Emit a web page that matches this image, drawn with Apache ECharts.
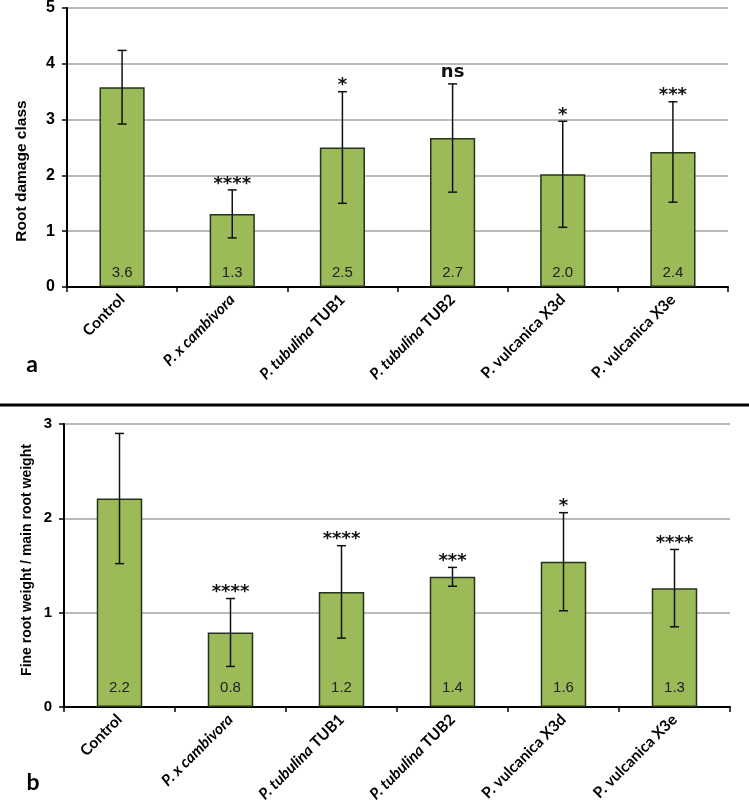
<!DOCTYPE html>
<html>
<head>
<meta charset="utf-8">
<script src="https://cdn.jsdelivr.net/npm/echarts@6/dist/echarts.min.js"></script>
<style>
html,body{margin:0;padding:0;background:#fff;}
#chart{width:749px;height:806px;}
</style>
</head>
<body>
<div id="chart"></div>
<script>
// ---- data ----
const categories = ['Control', 'P. x cambivora', 'P. tubulina TUB1', 'P. tubulina TUB2', 'P. vulcanica X3d', 'P. vulcanica X3e'];

const damageMean = [3.58, 1.31, 2.50, 2.67, 2.02, 2.42];
const damageErr = [0.66, 0.43, 1.00, 0.97, 0.95, 0.90];
const damageLabels = ['3.6', '1.3', '2.5', '2.7', '2.0', '2.4'];
const damageSig = ['', '****', '*', 'ns', '*', '***'];
const damageTicks = [0, 1, 2, 3, 4, 5];

const ratioMean = [2.21, 0.79, 1.22, 1.38, 1.54, 1.26];
const ratioErr = [0.69, 0.36, 0.49, 0.10, 0.52, 0.41];
const ratioLabels = ['2.2', '0.8', '1.2', '1.4', '1.6', '1.3'];
const ratioSig = ['', '****', '****', '***', '*', '****'];
const ratioTicks = [0, 1, 2, 3];

const damageTitle = 'Root damage class';
const ratioTitle = 'Fine root weight / main root weight';
const panelLetters = ['a', 'b'];

// ---- chart ----
const chart = echarts.init(document.getElementById('chart'));

function catFormatter(v) {
  const m = v.match(/^(P\. [a-z ]+?)( [A-Z0-9]+)?$/);
  if (v === 'Control' || !m) return '{n|' + v + '}';
  if (m[2]) return '{i|' + m[1] + '}{n|' + m[2] + '}';
  return '{i|' + m[1] + '}';
}

function xAxisDef(gridIndex) {
  return {
    type: 'category', gridIndex: gridIndex, data: categories,
    axisLine: {lineStyle: {color: '#000', width: 2}},
    axisTick: {show: true, length: 5, lineStyle: {color: '#000', width: 1.5}},
    axisLabel: {
      rotate: 45, margin: 10, interval: 0,
      formatter: catFormatter,
      rich: {
        n: {fontFamily: 'Lato', fontWeight: 'bold', fontSize: 15.5, color: '#000'},
        i: {fontFamily: 'Lato', fontWeight: 'bold', fontStyle: 'italic', fontSize: 15.5, color: '#000'}
      }
    }
  };
}

function yAxisDef(gridIndex, ticks, fs) {
  return {
    type: 'value', gridIndex: gridIndex,
    min: ticks[0], max: ticks[ticks.length - 1], interval: ticks[1] - ticks[0],
    axisLine: {show: true, lineStyle: {color: '#000', width: 2}},
    axisTick: {show: true, length: 5, lineStyle: {color: '#000', width: 1.5}},
    axisLabel: {margin: 12, fontFamily: 'Liberation Sans', fontWeight: 'bold', fontSize: fs, color: '#000'},
    splitLine: {show: true, lineStyle: {color: '#a3a3a3', width: 1.5}}
  };
}

function barSeries(idx, values, labels, dist) {
  return {
    type: 'bar', xAxisIndex: idx, yAxisIndex: idx, data: values,
    barWidth: '41%',
    itemStyle: {color: '#9bbb59', borderColor: '#26331a', borderWidth: 1.5},
    label: {
      show: true, position: 'insideBottom', distance: dist,
      formatter: p => labels[p.dataIndex],
      fontFamily: 'Liberation Sans', fontSize: 15, color: '#222'
    },
    z: 2
  };
}

function errSeries(idx, mean, err, sig) {
  return {
    type: 'custom', xAxisIndex: idx, yAxisIndex: idx,
    data: mean.map((m, i) => [i, m - err[i], m + err[i]]),
    renderItem: function (params, api) {
      const i = api.value(0);
      const lo = api.coord([i, api.value(1)]);
      const hi = api.coord([i, api.value(2)]);
      const cap = 4.5;
      const st = {stroke: '#111', lineWidth: 1.5};
      const children = [
        {type: 'line', shape: {x1: hi[0], y1: hi[1], x2: lo[0], y2: lo[1]}, style: st},
        {type: 'line', shape: {x1: hi[0] - cap, y1: hi[1], x2: hi[0] + cap, y2: hi[1]}, style: st},
        {type: 'line', shape: {x1: lo[0] - cap, y1: lo[1], x2: lo[0] + cap, y2: lo[1]}, style: st}
      ];
      const s = sig[i];
      if (s) {
        const isStar = s.indexOf('*') >= 0;
        children.push({
          type: 'text',
          style: {
            text: s, x: hi[0], y: hi[1] + (isStar ? 3 : -3),
            align: 'center', verticalAlign: 'bottom',
            font: 'bold 18px "DejaVu Sans"', fill: '#111'
          }
        });
      }
      return {type: 'group', children: children};
    },
    z: 5
  };
}

const option = {
  animation: false,
  backgroundColor: '#fff',
  grid: [
    {left: 67, right: 21, top: 5, bottom: 519},
    {left: 64, right: 19, top: 424, bottom: 99}
  ],
  xAxis: [xAxisDef(0), xAxisDef(1)],
  yAxis: [yAxisDef(0, damageTicks, 16), yAxisDef(1, ratioTicks, 15)],
  series: [
    barSeries(0, damageMean, damageLabels, 7),
    errSeries(0, damageMean, damageErr, damageSig),
    barSeries(1, ratioMean, ratioLabels, 12),
    errSeries(1, ratioMean, ratioErr, ratioSig)
  ],
  graphic: [
    {type: 'text', x: 22, y: 171, rotation: Math.PI / 2,
      style: {text: damageTitle, align: 'center', verticalAlign: 'middle',
        font: 'bold 15.5px "Liberation Sans"', fill: '#000'}},
    {type: 'text', x: 27, y: 560, rotation: Math.PI / 2,
      style: {text: ratioTitle, align: 'center', verticalAlign: 'middle',
        font: 'bold 14px "Liberation Sans"', fill: '#000'}},
    {type: 'text', x: 32, y: 365,
      style: {text: panelLetters[0], align: 'center', verticalAlign: 'middle',
        font: 'bold 23px Lato', fill: '#000'}},
    {type: 'text', x: 33, y: 783,
      style: {text: panelLetters[1], align: 'center', verticalAlign: 'middle',
        font: 'bold 23px Lato', fill: '#000'}},
    {type: 'rect', shape: {x: 0, y: 403.5, width: 749, height: 3}, style: {fill: '#000'}}
  ]
};
chart.setOption(option);
</script>
</body>
</html>
